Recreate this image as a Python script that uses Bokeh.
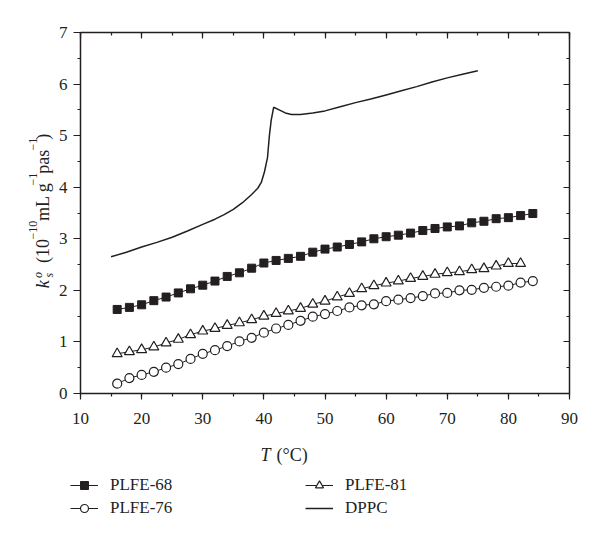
import math
from bokeh.plotting import figure
from bokeh.layouts import column, row
from bokeh.models import (Range1d, LinearAxis, SingleIntervalTicker,
                          Legend, LegendItem)
from bokeh.core.properties import value
from bokeh.embed import file_html
from bokeh.resources import INLINE

# ---------------- data ----------------
t_68 = [16, 18, 20, 22, 24, 26, 28, 30, 32, 34, 36, 38, 40, 42, 44, 46, 48, 50,
        52, 54, 56, 58, 60, 62, 64, 66, 68, 70, 72, 74, 76, 78, 80, 82, 84]
k_68 = [1.63, 1.67, 1.72, 1.80, 1.87, 1.95, 2.03, 2.10, 2.18, 2.27, 2.34, 2.43,
        2.53, 2.58, 2.62, 2.66, 2.74, 2.80, 2.84, 2.89, 2.94, 3.00, 3.04, 3.07,
        3.11, 3.16, 3.20, 3.23, 3.25, 3.31, 3.34, 3.39, 3.41, 3.45, 3.49]

t_76 = [16, 18, 20, 22, 24, 26, 28, 30, 32, 34, 36, 38, 40, 42, 44, 46, 48, 50,
        52, 54, 56, 58, 60, 62, 64, 66, 68, 70, 72, 74, 76, 78, 80, 82, 84]
k_76 = [0.19, 0.30, 0.36, 0.42, 0.50, 0.57, 0.67, 0.77, 0.84, 0.92, 1.01, 1.08,
        1.18, 1.26, 1.33, 1.41, 1.49, 1.54, 1.60, 1.67, 1.71, 1.73, 1.79, 1.82,
        1.85, 1.89, 1.94, 1.95, 2.00, 2.01, 2.05, 2.07, 2.09, 2.15, 2.18]

t_81 = [16, 18, 20, 22, 24, 26, 28, 30, 32, 34, 36, 38, 40, 42, 44, 46, 48, 50,
        52, 54, 56, 58, 60, 62, 64, 66, 68, 70, 72, 74, 76, 78, 80, 82]
k_81 = [0.77, 0.81, 0.85, 0.90, 0.98, 1.05, 1.14, 1.21, 1.26, 1.32, 1.37, 1.43,
        1.50, 1.55, 1.60, 1.65, 1.73, 1.79, 1.87, 1.94, 2.03, 2.09, 2.14, 2.18,
        2.23, 2.27, 2.31, 2.34, 2.36, 2.40, 2.42, 2.47, 2.52, 2.52]

t_dppc = [15.0, 17.5, 20.0, 22.5, 25.0, 27.5, 30.0, 32.0, 33.5, 35.0, 36.5, 38.0,
          39.0, 39.6, 40.1, 40.6, 40.9, 41.2, 41.6, 42.5, 43.5, 44.5, 46.0, 48.0,
          50.0, 52.5, 55.0, 57.5, 60.0, 62.5, 65.0, 67.5, 70.0, 72.5, 75.0]
k_dppc = [2.65, 2.74, 2.84, 2.93, 3.03, 3.15, 3.28, 3.38, 3.47, 3.57, 3.70, 3.86,
          3.98, 4.10, 4.30, 4.58, 5.00, 5.30, 5.55, 5.50, 5.44, 5.41, 5.41, 5.44,
          5.48, 5.56, 5.64, 5.71, 5.79, 5.87, 5.95, 6.04, 6.12, 6.19, 6.26]

series_labels = ["PLFE-68", "PLFE-76", "PLFE-81", "DPPC"]
x_title = ["T", "(°C)"]

FONT = "Liberation Serif"
INK = "#231f20"

# layout sizes (page pixels)
W, H = 600, 540
YW = 55           # width of the y-title strip
MH = 433          # height of the main plot row
BH = H - MH       # height of the bottom strip (x title + legend)


def bare(width, height):
    f = figure(width=width, height=height, output_backend="svg",
               toolbar_location=None, x_range=Range1d(0, width),
               y_range=Range1d(0, height), min_border=0,
               x_axis_location=None, y_axis_location=None)
    f.xgrid.visible = False
    f.ygrid.visible = False
    f.outline_line_color = None
    f.border_fill_color = "white"
    f.background_fill_color = "white"
    return f


# ---------------- main figure ----------------
p = figure(width=W - YW, height=MH, output_backend="svg", toolbar_location=None,
           x_range=Range1d(10, 90), y_range=Range1d(0, 7),
           min_border_left=79 - YW, min_border_right=W - 569,
           min_border_top=32, min_border_bottom=MH - 393,
           x_axis_location=None, y_axis_location=None)
p.xgrid.visible = False
p.ygrid.visible = False
p.outline_line_color = None
p.background_fill_color = "white"
p.border_fill_color = "white"


def style_axis(ax, side):
    ax.axis_line_color = INK
    ax.axis_line_width = 1.5
    ax.major_tick_line_color = INK
    ax.minor_tick_line_color = INK
    ax.major_tick_line_width = 1.2
    ax.minor_tick_line_width = 1.2
    ax.major_label_text_font = FONT
    ax.major_label_text_color = INK
    ax.major_label_text_font_size = "17px"
    if side in ("below", "left"):
        ax.major_tick_out = 7 if side == "left" else 6
        ax.major_tick_in = 0
        ax.minor_tick_out = 3
        ax.minor_tick_in = 0
    else:
        ax.major_tick_out = 0
        ax.major_tick_in = 6
        ax.minor_tick_out = 0
        ax.minor_tick_in = 3
        ax.major_label_text_font_size = "0px"
        ax.major_label_text_alpha = 0


for side in ("below", "above"):
    ax = LinearAxis(ticker=SingleIntervalTicker(interval=10, num_minor_ticks=2))
    style_axis(ax, side)
    if side == "below":
        ax.major_label_standoff = 13
    p.add_layout(ax, side)

for side in ("left", "right"):
    ax = LinearAxis(ticker=SingleIntervalTicker(interval=1, num_minor_ticks=2))
    style_axis(ax, side)
    if side == "left":
        ax.major_label_standoff = 6
    p.add_layout(ax, side)

STY = {
    "PLFE-68": dict(marker="square", size=8, fill_color=INK, line_color=INK, line_width=1),
    "PLFE-76": dict(marker="circle", size=9, fill_color="white", line_color=INK, line_width=1.2),
    "PLFE-81": dict(marker="triangle", size=10, fill_color="white", line_color=INK, line_width=1.2),
}

p.line(t_68, k_68, line_color=INK, line_width=1)
p.scatter(t_68, k_68, **STY["PLFE-68"])
p.line(t_76, k_76, line_color=INK, line_width=1)
p.scatter(t_76, k_76, **STY["PLFE-76"])
p.line(t_81, k_81, line_color=INK, line_width=1)
p.scatter(t_81, k_81, **STY["PLFE-81"])
p.line(t_dppc, k_dppc, line_color=INK, line_width=1.5)

# ---------------- y title strip (rotated pieces, centre-anchored) ----------------
yf = bare(YW, MH)


def ytxt(text, page_x, page_y, size, italic=False):
    yf.text(x=[page_x], y=[MH - page_y], text=[text], angle=math.pi / 2,
            text_font=value(FONT), text_font_size=value(size),
            text_font_style="italic" if italic else "normal",
            text_color=INK, text_align="center", text_baseline="middle")


MAIN_X, SUP_X, SUB_X = 42.5, 32.0, 48.0
ytxt("k", MAIN_X, 302, "18px", italic=True)
ytxt("s", SUB_X, 291, "12px", italic=True)
ytxt("o", 37.0, 291, "12px", italic=True)
ytxt("(10", MAIN_X, 262, "18px")
ytxt("\u221210", SUP_X, 237, "12px")
ytxt("mL g", MAIN_X, 203, "18px")
ytxt("\u22121", SUP_X, 176, "12px")
ytxt("pas", MAIN_X, 155, "18px")
ytxt("\u22121", SUP_X, 134, "12px")
ytxt(")", MAIN_X, 125, "18px")

# ---------------- bottom strip: x title + legend ----------------
bf = bare(W, BH)


def btxt(text, page_x, page_y, size, italic=False):
    bf.text(x=[page_x], y=[H - page_y], text=[text],
            text_font=value(FONT), text_font_size=value(size),
            text_font_style="italic" if italic else "normal",
            text_color=INK, text_align="left", text_baseline="alphabetic")


btxt(x_title[0], 260, 454, "18px", italic=True)
btxt(x_title[1], 276, 454, "18px")

# legend sample renderers (one NaN point each: nothing visible, legend glyph drawn)
nan = float("nan")
items = []
for name in series_labels:
    rs = [bf.line(x=[nan], y=[nan], line_color=INK,
                  line_width=1.5 if name == "DPPC" else 1)]
    if name in STY:
        rs.append(bf.scatter(x=[nan], y=[nan], **STY[name]))
    items.append(LegendItem(label=name, renderers=rs))

legend = Legend(items=items, location=(70, H - 518), orientation="vertical",
                ncols=2, label_text_font=FONT, label_text_font_size="17px",
                label_text_color=INK, glyph_width=28, glyph_height=20,
                label_height=20, label_width=192, label_standoff=12,
                spacing=3, padding=0, margin=0, border_line_alpha=0,
                background_fill_alpha=0)
bf.add_layout(legend, "center")

layout = column(row(yf, p, spacing=0), bf, spacing=0)

open("out.html", "w").write(file_html(layout, INLINE))
